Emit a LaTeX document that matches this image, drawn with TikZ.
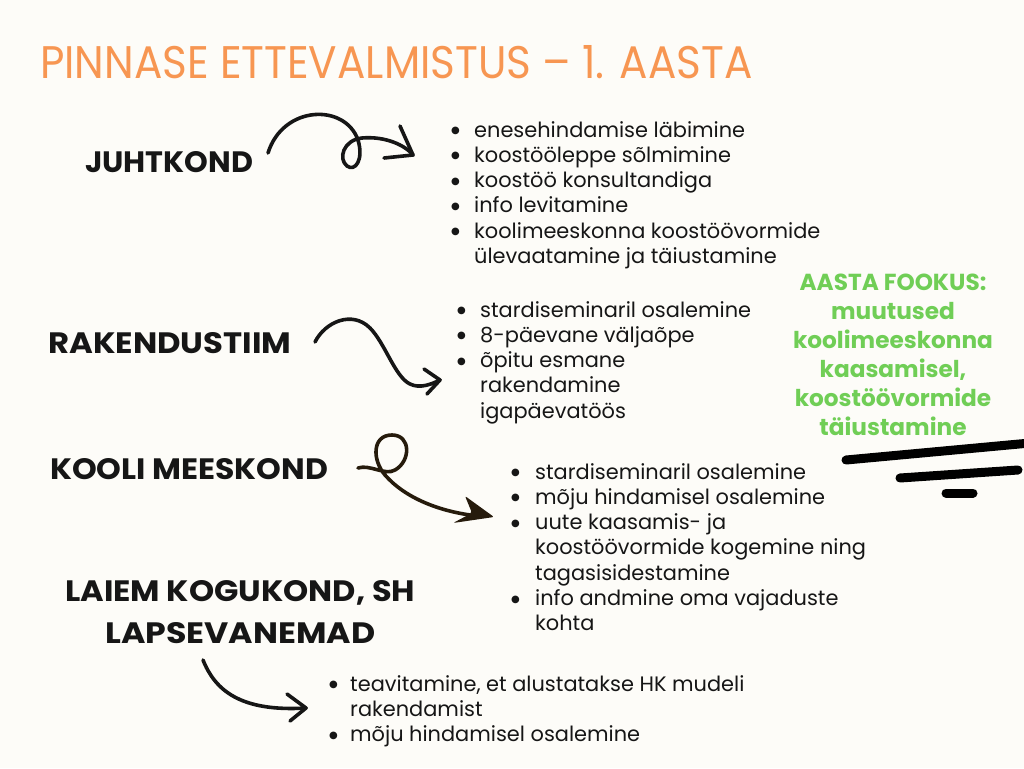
\documentclass[tikz,border=0pt]{standalone}
\usepackage{fontspec}
\setmainfont{Poppins}
\newfontfamily\dejavu{DejaVu Sans}
\usepackage{graphicx}
\definecolor{bgc}{RGB}{253,252,248}
\definecolor{titleor}{RGB}{247,150,82}
\definecolor{greenf}{RGB}{112,206,86}
\definecolor{ink}{RGB}{22,22,22}
\definecolor{brownink}{RGB}{38,27,12}
\newcommand{\hdr}[2]{\resizebox{#1pt}{21pt}{\bfseries #2}}
\newcommand{\bul}{\raisebox{3.4pt}{\dejavu\fontsize{10pt}{10pt}\selectfont ●}}
\newcommand{\itm}[2]{\hangindent=#1pt\hangafter=1\noindent\makebox[#1pt][l]{\bul}#2\par}
\tikzset{
  lst/.style={anchor=base west, inner sep=0pt, text=ink, font=\fontsize{20.9pt}{25.3pt}\selectfont},
  hd/.style={anchor=base west, inner sep=0pt, text=ink},
  curvy/.style={draw=ink, line width=3.6pt, line cap=round, line join=round},
  stroke/.style={draw=black, line width=9pt, line cap=round}
}
\begin{document}
\begin{tikzpicture}[x=1pt,y=-1pt]
\fill[bgc] (0,0) rectangle (1024,768);
\useasboundingbox (0,0) rectangle (1024,768);

% title
\node[anchor=base west, inner sep=0pt, text=titleor] (title) at (40,78)
  {\resizebox{712pt}{33pt}{PINNASE ETTEVALMISTUS – 1. AASTA}};

% headers
\node[hd] (juht) at (85,172) {\hdr{168}{JUHTKOND}};
\node[hd] (rak) at (48,353) {\hdr{243}{RAKENDUSTIIM}};
\node[hd] (kool) at (50,479) {\hdr{278}{KOOLI MEESKOND}};
\node[hd] (laiem) at (65,601) {\hdr{350}{LAIEM KOGUKOND, SH}};
\node[hd] (laps) at (105,643) {\hdr{270}{LAPSEVANEMAD}};

% lists
\node[lst] (l1) at (451,137) {\parbox[t]{420pt}{%
  \itm{23}{enesehindamise läbimine}%
  \itm{23}{koostööleppe sõlmimine}%
  \itm{23}{koostöö konsultandiga}%
  \itm{23}{info levitamine}%
  \itm{23}{koolimeeskonna koostöövormide\newline ülevaatamine ja täiustamine}}};
\node[lst] (l2) at (457,317) {\parbox[t]{320pt}{%
  \itm{23}{stardiseminaril osalemine}%
  \itm{23}{8-päevane väljaõpe}%
  \itm{23}{õpitu esmane\newline rakendamine\newline igapäevatöös}}};
\node[lst] (l3) at (511,479) {\parbox[t]{380pt}{%
  \itm{24}{stardiseminaril osalemine}%
  \itm{24}{mõju hindamisel osalemine}%
  \itm{24}{uute kaasamis- ja\newline koostöövormide kogemine ning\newline tagasisidestamine}%
  \itm{24}{info andmine oma vajaduste\newline kohta}}};
\node[lst] (l4) at (329,691) {\parbox[t]{440pt}{%
  \itm{21}{teavitamine, et alustatakse HK mudeli\newline rakendamist}%
  \itm{21}{mõju hindamisel osalemine}}};

% focus text
\node[inner sep=0pt, text=greenf, align=center, font=\fontsize{23.2pt}{29pt}\selectfont\bfseries] (fookus) at (893,355)
  {AASTA FOOKUS:\\muutused\\koolimeeskonna\\kaasamisel,\\koostöövormide\\täiustamine};

% arrow coordinates
\coordinate (a1s) at (268,153);
\coordinate (a1e) at (413,155);
\coordinate (a2s) at (315,342);
\coordinate (a2e) at (440,380);
\coordinate (a3s) at (358,468);
\coordinate (a3e) at (494,517);
\coordinate (a4s) at (203,660);
\coordinate (a4e) at (306,708);

% arrow 1
\draw[curvy] (a1s) .. controls (283,105) and (345,103) .. (358,140)
  .. controls (364,160) and (355,172) .. (347,166)
  .. controls (338,159) and (343,140) .. (362,138)
  .. controls (385,136) and (405,145) .. (a1e);
\draw[curvy] (400,126) -- (a1e) -- (384,158);

% arrow 2
\draw[curvy] (a2s) .. controls (325,322) and (352,310) .. (370,328)
  .. controls (385,343) and (395,377) .. (410,384)
  .. controls (420,389) and (432,384) .. (a2e);
\draw[curvy] (424,369) -- (a2e) -- (427,394);

% arrow 3
\draw[draw=brownink, line width=3.6pt, line cap=round, line join=round] (a3s)
  .. controls (370,464) and (385,476) .. (395,470)
  .. controls (411,461) and (411,435) .. (392,435)
  .. controls (372,435) and (372,460) .. (385,475)
  .. controls (405,498) and (440,512) .. (478,516);
\fill[brownink, rounded corners=2pt] (465,496) -- (a3e) -- (453,523) -- (472,513) -- cycle;

% arrow 4
\draw[curvy] (a4s) .. controls (215,690) and (240,712) .. (a4e);
\draw[curvy] (287,694) -- (a4e) -- (290,721);

% decorative strokes
\draw[stroke] (846,460) -- (1030,443);
\draw[stroke] (900,478) -- (1018,470);
\draw[stroke] (946,493) -- (973,493);
\end{tikzpicture}
\end{document}
